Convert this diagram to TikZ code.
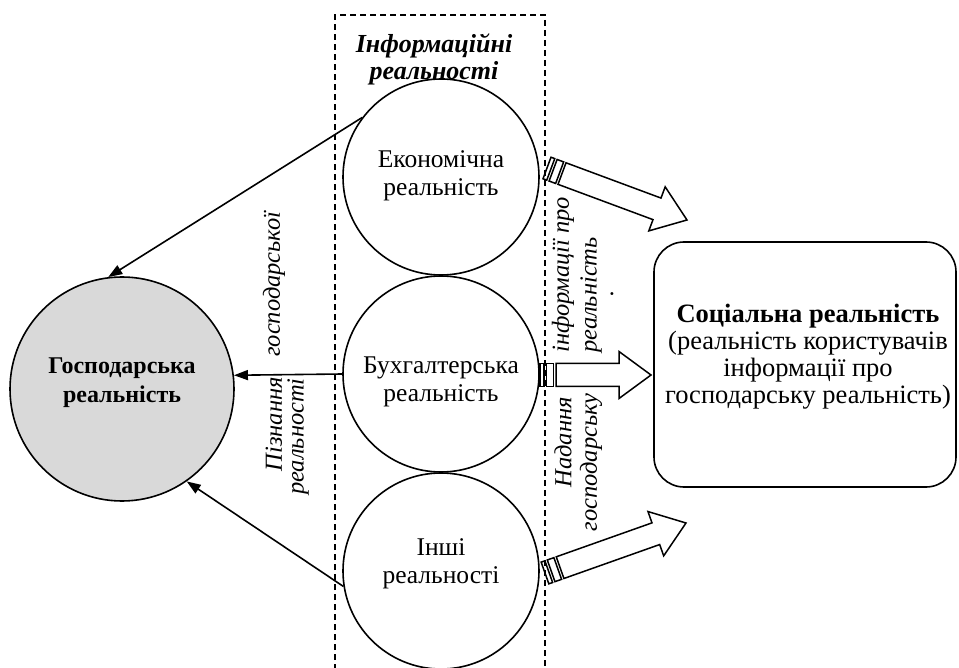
\documentclass[tikz,border=0pt]{standalone}
\usepackage{fontspec}
\setmainfont{Liberation Serif}
\usetikzlibrary{arrows.meta,calc}
\definecolor{lgray}{HTML}{D9D9D9}
\newcommand\stripedarrow[2]{%
  \pgfpointdiff{\pgfpointanchor{#1}{center}}{\pgfpointanchor{#2}{center}}%
  \pgfgetlastxy{\sadx}{\sady}%
  \pgfmathsetmacro\salen{veclen(\sadx,\sady)}%
  \pgfmathsetmacro\saang{atan2(\sady,\sadx)}%
  \begin{scope}[shift={(#1)},rotate=\saang]
    \draw[blockarrow] (0,-11.5) rectangle (4,11.5);
    \draw[blockarrow] (6.5,-11.5) rectangle (13.5,11.5);
    \draw[blockarrow,fill=white] (16,-11.5) -- (\salen-32,-11.5) -- (\salen-32,-23.5) -- (\salen,0) -- (\salen-32,23.5) -- (\salen-32,11.5) -- (16,11.5) -- cycle;
  \end{scope}}
\begin{document}
\begin{tikzpicture}[x=1pt,y=-1pt,
  circ/.style={circle,draw,line width=1.6pt,inner sep=0pt,minimum size=196},
  txt/.style={align=center,inner sep=0pt,font=\fontsize{25.5}{28}\selectfont},
  rot/.style={inner sep=0pt,rotate=90,font=\fontsize{24.5}{25}\selectfont\itshape},
  blockarrow/.style={line width=1.5pt,line join=miter},
  conn/.style={line width=1.6pt,-{Triangle[length=14pt,width=10pt]}}]
\useasboundingbox (0,0) rectangle (959,668);
% dashed frame
\draw[line width=1.5pt,dash pattern=on 6pt off 4pt] (335,690) -- (335,15) -- (545,15) -- (545,690);
\node[txt,font=\fontsize{26}{27}\selectfont\bfseries\itshape] (head) at (434,59) {Інформаційні\\реальності};
% circles
\node[circ] (c1) at (441,177) {};
\node[circ] (c2) at (441,374) {};
\node[circ] (c3) at (441,571) {};
\node[txt] (t1) at (441,176) {Економічна\\реальність};
\node[txt] (t2) at (441,382) {Бухгалтерська\\реальність};
\node[txt] (t3) at (441,564) {Інші\\реальності};
% left circle
\node[circle,draw,line width=1.6pt,fill=lgray,inner sep=0pt,minimum size=224] (gos) at (122,389) {};
\node[txt,font=\fontsize{24}{29}\selectfont\bfseries] (gost) at (122,383) {Господарська\\реальність};
% right box
\node[draw,line width=1.6pt,rounded corners=30pt,minimum width=302,minimum height=245,inner sep=0pt] (soc) at (805,364.5) {};
\node[txt,font=\fontsize{26.5}{27}\selectfont] (soct) at (808,357) {\textbf{Соціальна реальність}\\(реальність користувачів\\інформації про\\господарську реальність)};
% thin arrows
\draw[conn] (c1.143) -- (gos.97);
\draw[conn] (c2.180) -- (gos.7);
\draw[conn] (c3.189) -- (gos.305);
% rotated labels
\node[rot,anchor=east] (l1a) at (274,377) {Пізнання};
\node[rot,anchor=west] (l1b) at (274,357) {господарської};
\node[rot,anchor=east] (l2) at (298,378) {реальності};
\node[rot,anchor=east] (r1a) at (563,397) {Надання};
\node[rot,anchor=west] (r1b) at (563,353) {інформації про};
\node[rot,anchor=east] (r2a) at (591,393) {господарську};
\node[rot,anchor=west] (r2b) at (591,353) {реальність};
\node[rot,anchor=center] (r3) at (612,293) {.};
% block arrows
\coordinate (a1s) at (547,168);
\coordinate (a1e) at (687,220);
\coordinate (a2s) at (540,375);
\coordinate (a2e) at (651,375);
\coordinate (a3s) at (545,573);
\coordinate (a3e) at (686,523);
\stripedarrow{a1s}{a1e}
\stripedarrow{a2s}{a2e}
\stripedarrow{a3s}{a3e}
\end{tikzpicture}
\end{document}
